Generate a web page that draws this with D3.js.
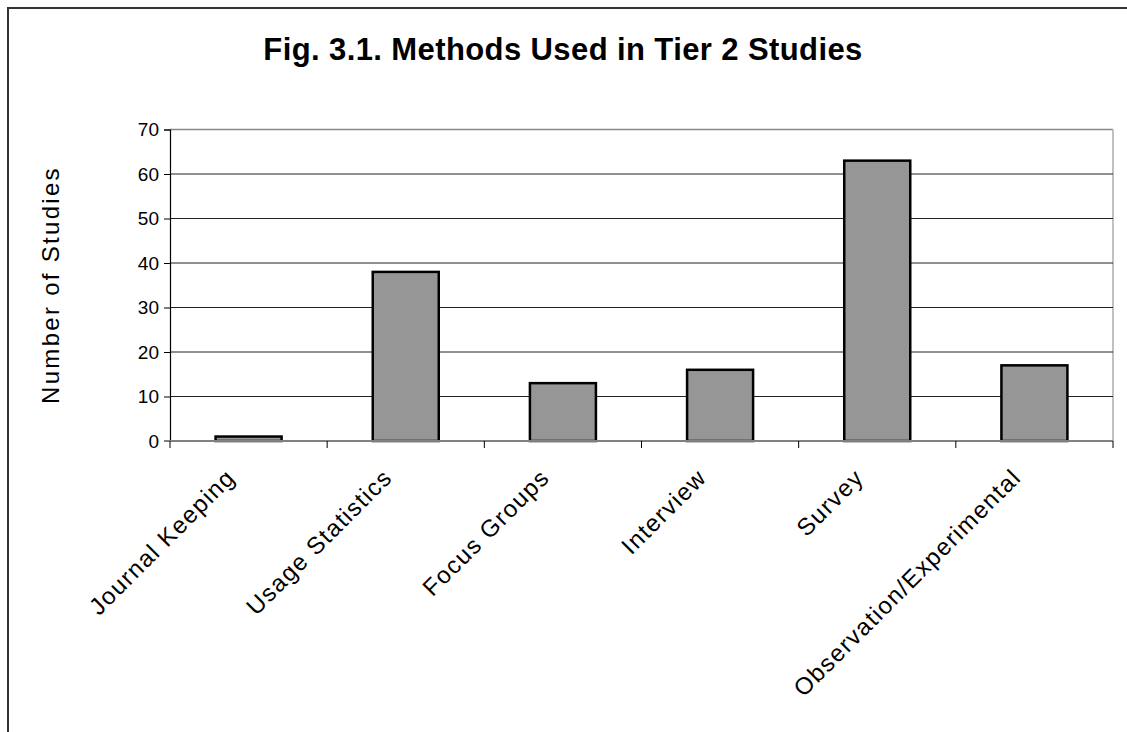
<!DOCTYPE html>
<html><head><meta charset="utf-8">
<script src="https://cdn.jsdelivr.net/npm/d3@7"></script>
<style>body{margin:0;background:#fff;}svg{display:block;font-family:Arial,"Liberation Sans",sans-serif;}</style>
</head><body>
<svg id="c" width="1127" height="732"></svg>
<script>
const categories = ["Journal Keeping","Usage Statistics","Focus Groups","Interview","Survey","Observation/Experimental"];
const values = [1,38,13,16,63,17];
const yTicks = [0,10,20,30,40,50,60,70];
const title = "Fig. 3.1. Methods Used in Tier 2 Studies";
const yLabel = "Number of Studies";

const svg = d3.select("#c");
const L=170, R=1113, T=129.5, B=441;
// outer border
svg.append("path").attr("d",`M8,740 L8,8 L1140,8`).attr("fill","none").attr("stroke","#333").attr("stroke-width",2);

const x = d3.scaleBand().domain(categories).range([L,R]).paddingInner(0.58).paddingOuter(0.29);
const y = d3.scaleLinear().domain([0,70]).range([B,T]);

// plot border
svg.append("line").attr("x1",L).attr("x2",R).attr("y1",T).attr("y2",T).attr("stroke","#888").attr("stroke-width",1.5);
svg.append("line").attr("x1",R).attr("x2",R).attr("y1",T).attr("y2",B).attr("stroke","#c0c0c0").attr("stroke-width",2);

// gridlines
svg.append("g").selectAll("line").data(yTicks.filter(d=>d>0&&d<70)).join("line")
  .attr("x1",L).attr("x2",R).attr("y1",d=>y(d)).attr("y2",d=>y(d)).attr("stroke","#222").attr("stroke-width",1);

// bars
svg.append("g").selectAll("rect").data(values).join("rect")
  .attr("x",(d,i)=>x(categories[i])).attr("width",x.bandwidth())
  .attr("y",d=>y(d)).attr("height",d=>B-y(d))
  .attr("fill","#969696").attr("stroke","#000").attr("stroke-width",2.5);

// y axis
const yAxis = d3.axisLeft(y).tickValues(yTicks).tickSize(6).tickPadding(5);
const ga = svg.append("g").attr("transform",`translate(${L},0)`).call(yAxis);
ga.select(".domain").attr("stroke","#000").attr("stroke-width",1.2);
ga.selectAll(".tick line").attr("stroke","#000");
ga.selectAll("text").attr("font-size",19).attr("fill","#000").attr("font-family","Arial,'Liberation Sans',sans-serif");

// x axis baseline
svg.append("line").attr("x1",L-6).attr("x2",R).attr("y1",B).attr("y2",B).attr("stroke","#808080").attr("stroke-width",2);
// category ticks at boundaries
const step = (R-L)/categories.length;
svg.append("g").selectAll("line").data(d3.range(categories.length+1)).join("line")
  .attr("x1",i=>L+i*step).attr("x2",i=>L+i*step).attr("y1",B).attr("y2",B+7).attr("stroke","#000");

// category labels
svg.append("g").selectAll("text").data(categories).join("text")
  .attr("transform",d=>`translate(${x(d)+x.bandwidth()/2-12},${B+38}) rotate(-45)`)
  .attr("text-anchor","end").attr("font-size",24).attr("letter-spacing",1.4).attr("fill","#000").text(d=>d);

// title
svg.append("text").attr("x",563).attr("y",60).attr("text-anchor","middle")
  .attr("font-size",31).attr("letter-spacing",0.4).attr("font-weight","bold").text(title);
// y label
svg.append("text").attr("transform",`translate(59,285) rotate(-90)`).attr("text-anchor","middle")
  .attr("font-size",24).attr("letter-spacing",2.3).text(yLabel);
</script>
</body></html>
